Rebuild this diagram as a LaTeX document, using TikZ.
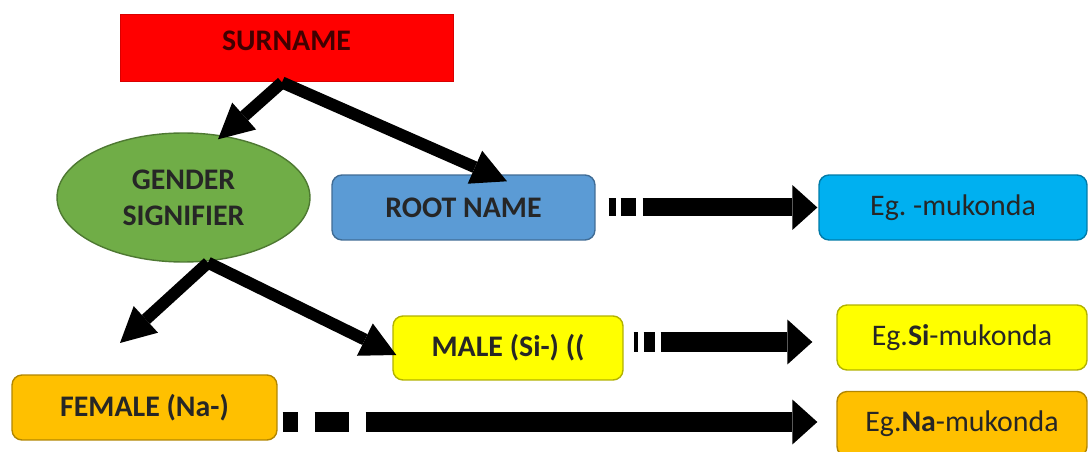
\documentclass[tikz,border=0pt]{standalone}
\usepackage{fontspec}
\setmainfont{Carlito}
\usepackage{xcolor}
\usetikzlibrary{shapes,arrows.meta,positioning}

\definecolor{surnamered}{HTML}{FF0000}
\definecolor{gendergreen}{HTML}{70AD47}
\definecolor{rootblue}{HTML}{5B9BD5}
\definecolor{egblue}{HTML}{00B0F0}
\definecolor{maleyellow}{HTML}{FFFF00}
\definecolor{femaleorange}{HTML}{FFC000}

\begin{document}
\frenchspacing
\begin{tikzpicture}[x=0.02cm,y=-0.02cm,
  namebox/.style={fill=#1, draw=#1!70!black, line width=0.8pt, rounded corners=0.2cm,
    inner sep=0pt, text=black!85, font=\fontsize{17}{20.5}\selectfont},
  diagarrow/.style={line width=0.24cm, black,
    -{Triangle[length=0.7cm, width=0.72cm, line width=0pt]}},
  flowarrow/.style={line width=0.4cm, black,
    -{Triangle[length=0.5cm, width=0.9cm, line width=0pt]}}]
\useasboundingbox (0,0) rectangle (1088,452);

% Top of the tree
\node[fill=surnamered, draw=surnamered!85!black, line width=0.5pt, inner sep=0pt,
  minimum width=6.66cm, minimum height=1.34cm, text=red!25!black, text depth=0.28cm,
  font=\fontsize{17}{20.5}\selectfont\bfseries] (surname) at (286.5,47.5) {SURNAME};

% Second row
\node[ellipse, fill=gendergreen, draw=gendergreen!70!black, line width=0.8pt, inner sep=0pt,
  minimum width=5.06cm, minimum height=2.58cm, align=center, text=black!85,
  font=\fontsize{17}{20.5}\selectfont\bfseries] (gender) at (183.5,197.5) {GENDER\\SIGNIFIER};
\node[namebox=rootblue, minimum width=5.26cm, minimum height=1.3cm,
  font=\fontsize{17}{20.5}\selectfont\bfseries] (root) at (463.5,207.5) {ROOT NAME};
\node[namebox=egblue, minimum width=5.36cm, minimum height=1.3cm] (egroot) at (953,207.5) {Eg. -mukonda};

% Male and female forms
\node[namebox=maleyellow, minimum width=4.6cm, minimum height=1.28cm,
  font=\fontsize{17}{20.5}\selectfont\bfseries] (male) at (508,348) {MALE (Si-) ((};
\node[namebox=maleyellow, minimum width=5.0cm, minimum height=1.3cm] (egsi) at (962,337.5) {Eg.\textbf{Si}-mukonda};
\node[namebox=femaleorange, minimum width=5.3cm, minimum height=1.3cm,
  font=\fontsize{17}{20.5}\selectfont\bfseries] (female) at (144.5,407.5) {FEMALE (Na-)};
\node[namebox=femaleorange, minimum width=5.0cm, minimum height=1.3cm] (egna) at (962,424) {Eg.\textbf{Na}-mukonda};

% Branch points
\coordinate (sp) at ([xshift=-0.09cm,yshift=-0.02cm]surname.south);
\coordinate (gp) at ([xshift=0.49cm]gender.south);
\coordinate (ftip) at (120,343);

% Diagonal arrows
\draw[diagarrow] (sp) -- ([xshift=0.69cm,yshift=-0.14cm]gender.north);
\draw[diagarrow] (sp) -- ([xshift=0.87cm,yshift=-0.14cm]root.north);
\draw[diagarrow] (gp) -- (ftip);
\draw[diagarrow] (gp) -- ([xshift=0.08cm,yshift=-0.14cm]male.west);

% Dashed flow arrows to the examples
\coordinate (ma) at ([yshift=0.12cm]male.east);
\coordinate (fa) at ([yshift=-0.29cm]female.east);
\draw[flowarrow, line width=0.36cm, dash pattern=on 0.14cm off 0.1cm on 0.3cm off 0.14cm on 12cm,
  shorten <=0.26cm, shorten >=0.02cm] (root.east) -- (egroot.west);
\draw[flowarrow, dash pattern=on 0.08cm off 0.12cm on 0.22cm off 0.12cm on 12cm,
  shorten <=0.2cm, shorten >=0.48cm] (ma) -- (ma -| egsi.west);
\draw[flowarrow, dash pattern=on 0.3cm off 0.34cm on 0.68cm off 0.34cm on 20cm,
  shorten <=0.1cm, shorten >=0.38cm] (fa) -- (fa -| egna.west);
\end{tikzpicture}
\end{document}
